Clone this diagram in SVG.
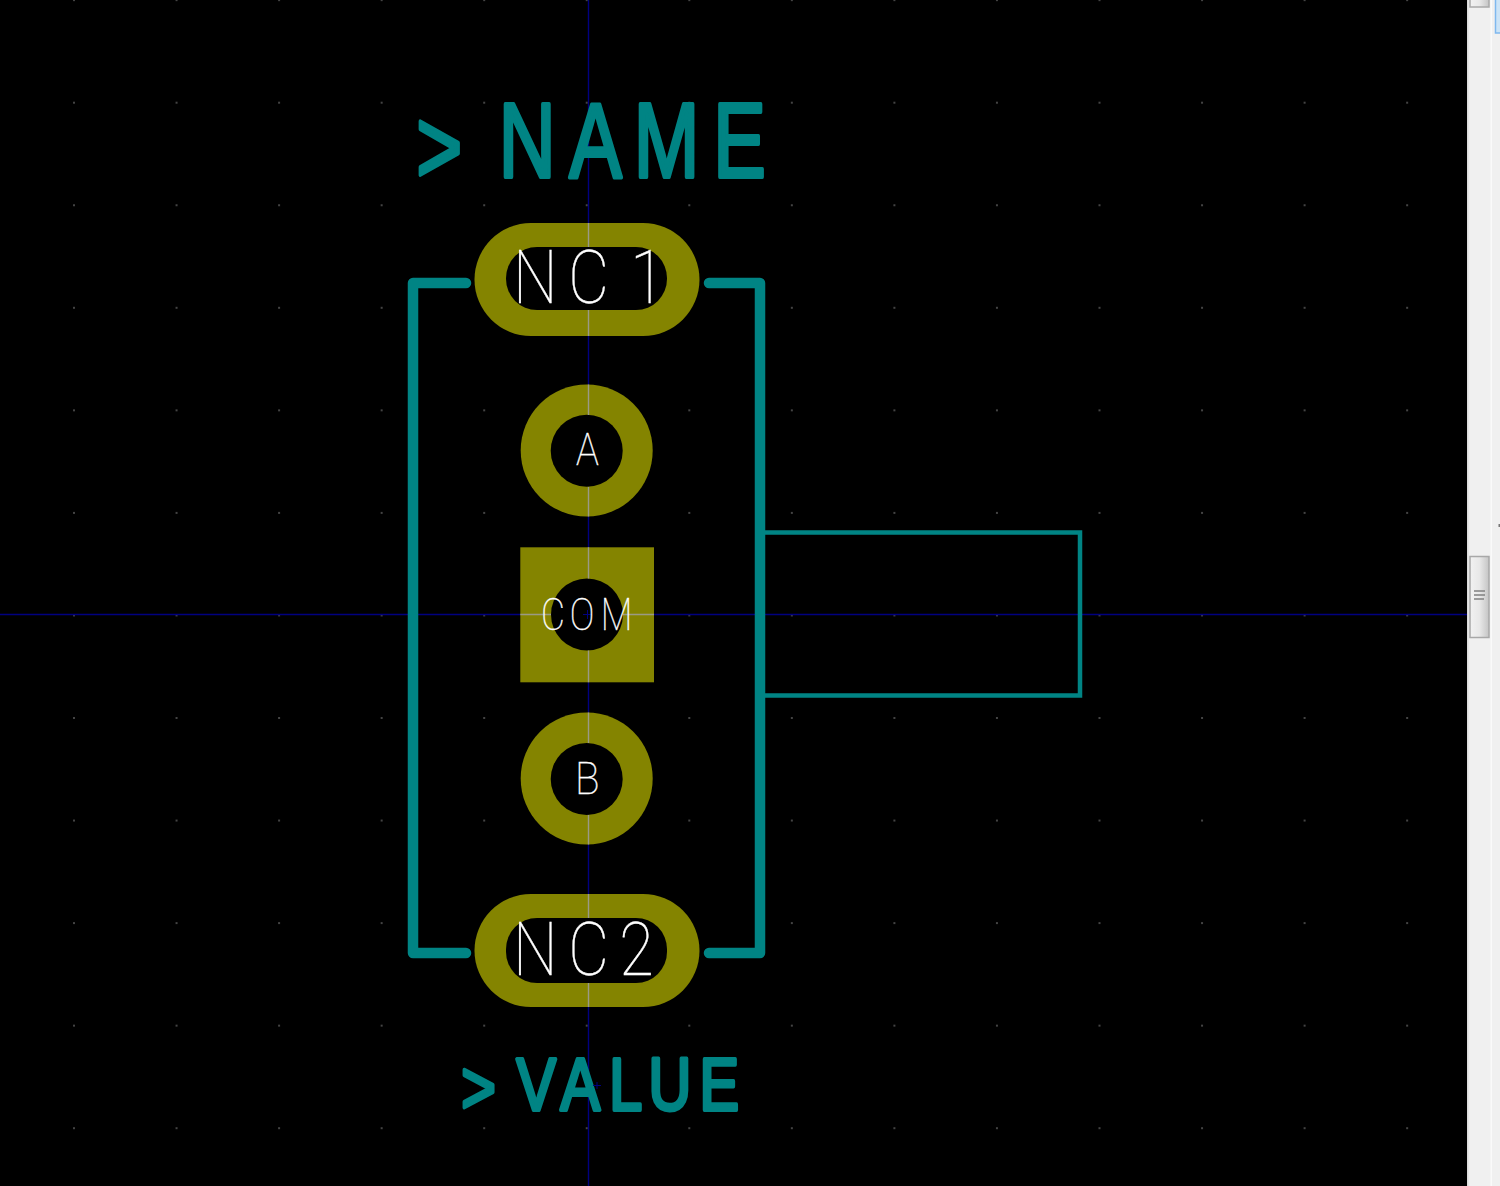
<svg xmlns="http://www.w3.org/2000/svg" width="1500" height="1186" viewBox="0 0 1500 1186">
<style>
.cu{fill:#848400}
.hole{fill:#000}
.silk{fill:none;stroke:#008484;stroke-linecap:round;stroke-linejoin:round}
.ref{font-family:"Liberation Sans",Arial,sans-serif;fill:#008484;stroke:#008484;stroke-linejoin:round;stroke-width:4}
.pin{font-family:Roboto,"Liberation Sans",sans-serif;font-weight:100;fill:#fff;stroke:#fff;stroke-width:.4}
.ax{stroke:#000080;stroke-width:1.4;fill:none}
.ov{stroke:#9a9a86;stroke-width:1.4;fill:none}
</style>
<defs>
<pattern id="g" x="74" y="102.7" width="102.55" height="102.55" patternUnits="userSpaceOnUse"><rect x="-.8" y="-.8" width="1.6" height="1.6" fill="#6a6a6a"/><rect x="101.75" y="-.8" width="1.6" height="1.6" fill="#6a6a6a"/><rect x="-.8" y="101.75" width="1.6" height="1.6" fill="#6a6a6a"/><rect x="101.75" y="101.75" width="1.6" height="1.6" fill="#6a6a6a"/></pattern>
<linearGradient id="th" x1="0" x2="1" y1="0" y2="0"><stop offset="0" stop-color="#f2f2f2"/><stop offset=".5" stop-color="#e8e8e8"/><stop offset="1" stop-color="#c4c4c4"/></linearGradient>
</defs>
<rect width="1500" height="1186" fill="#000"/>
<rect width="1467" height="1186" fill="url(#g)"/>
<path class="ax" d="M588.500 0V1186M0 614.500H1467"/>
<g id="connectors">
<path class="silk" stroke-width="10.500" d="M466 283H413V953H466M709 283H760V953H709"/>
<path class="silk" stroke-width="4.500" d="M765 532.500H1080V695.500H765" style="stroke-linecap:butt;stroke-linejoin:miter"/>
</g>
<g id="pad-nc1"><rect class="cu" x="474.500" y="223" width="225" height="113" rx="56.500"/><rect class="hole" x="506" y="247" width="161" height="63" rx="31"/><path class="ov" d="M588.500 223V247M588.500 310V336"/><text class="pin" font-size="74" transform="translate(513,303) scale(.85,1)" x="0 65 138">NC1</text></g>
<g id="pad-a"><circle class="cu" cx="586.700" cy="450.500" r="66"/><circle class="hole" cx="586.700" cy="450.800" r="36"/><path class="ov" d="M588.500 384.500V415M588.500 487V516.500"/><text class="pin" font-size="45" transform="translate(576,465) scale(.85,1)">A</text></g>
<g id="pad-com"><rect class="cu" x="520.300" y="547.300" width="133.700" height="135"/><circle class="hole" cx="587" cy="614.500" r="36"/><path class="ov" d="M588.500 547.300V578.500M588.500 650.500V682.300M520.300 614.500H551M623 614.500H654"/><path d="M583 614.500H592M587.500 610V619" stroke="#000080" stroke-width="1"/><text class="pin" font-size="45" transform="translate(541,630) scale(.82,1)" x="0 35 73">COM</text></g>
<g id="pad-b"><circle class="cu" cx="586.700" cy="778.500" r="66"/><circle class="hole" cx="586.700" cy="779" r="36"/><path class="ov" d="M588.500 712.500V743M588.500 815V844.500"/><text class="pin" font-size="45" transform="translate(575,794) scale(.9,1)">B</text></g>
<g id="pad-nc2"><rect class="cu" x="474.500" y="894" width="225" height="113" rx="56.500"/><rect class="hole" x="506" y="918" width="161" height="65" rx="31"/><path class="ov" d="M588.500 894V918M588.500 983V1007"/><text class="pin" font-size="74" transform="translate(513,975) scale(.85,1)" x="0 65 125">NC2</text></g>
<g id="label-name"><text class="ref" font-size="105" transform="translate(405,0) scale(.75,1)" x="15 125 219 305 411" y="183 177 177 177 177">&gt;NAME</text></g>
<g id="label-value"><text class="ref" font-size="74" transform="translate(454,0) scale(.8,1)" x="9 78 133 194 243 307" y="1113 1110 1110 1110 1110 1110">&gt;VALUE</text></g>
<path d="M593 1085.500H601M597 1082V1089" stroke="#000080" stroke-width="1"/>
<g id="scrollbar">
<rect x="1467" y="0" width="33" height="1186" fill="#f0f0f0"/>
<rect x="1467" y="0" width="1.500" height="1186" fill="#dcdcdc"/>
<rect x="1490.500" y="0" width="1.500" height="1186" fill="#fafafa"/>
<rect x="1470" y="-4" width="19" height="11" fill="url(#th)" stroke="#a8a8a8" stroke-width="1.500"/>
<rect x="1495.500" y="-2" width="8" height="35" fill="#cce4f7" stroke="#7fb8ee" stroke-width="1.500"/>
<rect x="1470" y="556.500" width="19" height="81" fill="url(#th)" stroke="#a8a8a8" stroke-width="1.500"/>
<path d="M1474 591H1485M1474 595H1485M1474 599H1484" stroke="#808080" stroke-width="1.500"/>
<rect x="1498.500" y="524" width="1.500" height="3" fill="#777"/>
</g>
</svg>
